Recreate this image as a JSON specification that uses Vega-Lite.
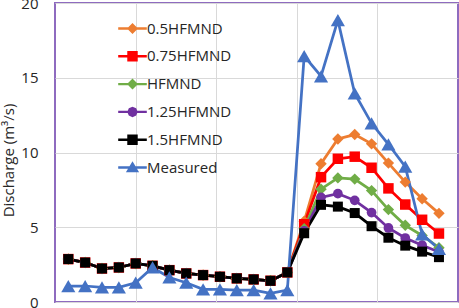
{
  "$schema": "https://vega.github.io/schema/vega-lite/v6.json",
  "autosize": {"type": "none"},
  "padding": {"left": 55, "top": 3, "right": 1, "bottom": 6},
  "width": 403,
  "height": 299,
  "background": "white",
  "config": {
    "font": "Open Sans",
    "view": {"stroke": "#8E6BBF", "strokeWidth": 2}
  },
  "data": {
    "values": [
      {"t": 1, "series": "0.5HFMND", "q": 2.87}, {"t": 2, "series": "0.5HFMND", "q": 2.64}, {"t": 3, "series": "0.5HFMND", "q": 2.24}, {"t": 4, "series": "0.5HFMND", "q": 2.31}, {"t": 5, "series": "0.5HFMND", "q": 2.58}, {"t": 6, "series": "0.5HFMND", "q": 2.42}, {"t": 7, "series": "0.5HFMND", "q": 2.13}, {"t": 8, "series": "0.5HFMND", "q": 1.91}, {"t": 9, "series": "0.5HFMND", "q": 1.8}, {"t": 10, "series": "0.5HFMND", "q": 1.69}, {"t": 11, "series": "0.5HFMND", "q": 1.58}, {"t": 12, "series": "0.5HFMND", "q": 1.51}, {"t": 13, "series": "0.5HFMND", "q": 1.42}, {"t": 14, "series": "0.5HFMND", "q": 1.98}, {"t": 15, "series": "0.5HFMND", "q": 5.4}, {"t": 16, "series": "0.5HFMND", "q": 9.25}, {"t": 17, "series": "0.5HFMND", "q": 10.9}, {"t": 18, "series": "0.5HFMND", "q": 11.2}, {"t": 19, "series": "0.5HFMND", "q": 10.58}, {"t": 20, "series": "0.5HFMND", "q": 9.29}, {"t": 21, "series": "0.5HFMND", "q": 8.02}, {"t": 22, "series": "0.5HFMND", "q": 6.91}, {"t": 23, "series": "0.5HFMND", "q": 5.93},
      {"t": 1, "series": "0.75HFMND", "q": 2.87}, {"t": 2, "series": "0.75HFMND", "q": 2.64}, {"t": 3, "series": "0.75HFMND", "q": 2.24}, {"t": 4, "series": "0.75HFMND", "q": 2.31}, {"t": 5, "series": "0.75HFMND", "q": 2.58}, {"t": 6, "series": "0.75HFMND", "q": 2.42}, {"t": 7, "series": "0.75HFMND", "q": 2.13}, {"t": 8, "series": "0.75HFMND", "q": 1.91}, {"t": 9, "series": "0.75HFMND", "q": 1.8}, {"t": 10, "series": "0.75HFMND", "q": 1.69}, {"t": 11, "series": "0.75HFMND", "q": 1.58}, {"t": 12, "series": "0.75HFMND", "q": 1.51}, {"t": 13, "series": "0.75HFMND", "q": 1.42}, {"t": 14, "series": "0.75HFMND", "q": 1.98}, {"t": 15, "series": "0.75HFMND", "q": 5.2}, {"t": 16, "series": "0.75HFMND", "q": 8.35}, {"t": 17, "series": "0.75HFMND", "q": 9.58}, {"t": 18, "series": "0.75HFMND", "q": 9.72}, {"t": 19, "series": "0.75HFMND", "q": 8.98}, {"t": 20, "series": "0.75HFMND", "q": 7.6}, {"t": 21, "series": "0.75HFMND", "q": 6.52}, {"t": 22, "series": "0.75HFMND", "q": 5.5}, {"t": 23, "series": "0.75HFMND", "q": 4.58},
      {"t": 1, "series": "HFMND", "q": 2.87}, {"t": 2, "series": "HFMND", "q": 2.64}, {"t": 3, "series": "HFMND", "q": 2.24}, {"t": 4, "series": "HFMND", "q": 2.31}, {"t": 5, "series": "HFMND", "q": 2.58}, {"t": 6, "series": "HFMND", "q": 2.42}, {"t": 7, "series": "HFMND", "q": 2.13}, {"t": 8, "series": "HFMND", "q": 1.91}, {"t": 9, "series": "HFMND", "q": 1.8}, {"t": 10, "series": "HFMND", "q": 1.69}, {"t": 11, "series": "HFMND", "q": 1.58}, {"t": 12, "series": "HFMND", "q": 1.51}, {"t": 13, "series": "HFMND", "q": 1.42}, {"t": 14, "series": "HFMND", "q": 1.98}, {"t": 15, "series": "HFMND", "q": 4.9}, {"t": 16, "series": "HFMND", "q": 7.55}, {"t": 17, "series": "HFMND", "q": 8.3}, {"t": 18, "series": "HFMND", "q": 8.22}, {"t": 19, "series": "HFMND", "q": 7.45}, {"t": 20, "series": "HFMND", "q": 6.18}, {"t": 21, "series": "HFMND", "q": 5.13}, {"t": 22, "series": "HFMND", "q": 4.45}, {"t": 23, "series": "HFMND", "q": 3.63},
      {"t": 1, "series": "1.25HFMND", "q": 2.87}, {"t": 2, "series": "1.25HFMND", "q": 2.64}, {"t": 3, "series": "1.25HFMND", "q": 2.24}, {"t": 4, "series": "1.25HFMND", "q": 2.31}, {"t": 5, "series": "1.25HFMND", "q": 2.58}, {"t": 6, "series": "1.25HFMND", "q": 2.42}, {"t": 7, "series": "1.25HFMND", "q": 2.13}, {"t": 8, "series": "1.25HFMND", "q": 1.91}, {"t": 9, "series": "1.25HFMND", "q": 1.8}, {"t": 10, "series": "1.25HFMND", "q": 1.69}, {"t": 11, "series": "1.25HFMND", "q": 1.58}, {"t": 12, "series": "1.25HFMND", "q": 1.51}, {"t": 13, "series": "1.25HFMND", "q": 1.42}, {"t": 14, "series": "1.25HFMND", "q": 1.98}, {"t": 15, "series": "1.25HFMND", "q": 4.75}, {"t": 16, "series": "1.25HFMND", "q": 7.0}, {"t": 17, "series": "1.25HFMND", "q": 7.25}, {"t": 18, "series": "1.25HFMND", "q": 6.8}, {"t": 19, "series": "1.25HFMND", "q": 5.98}, {"t": 20, "series": "1.25HFMND", "q": 4.95}, {"t": 21, "series": "1.25HFMND", "q": 4.28}, {"t": 22, "series": "1.25HFMND", "q": 3.8}, {"t": 23, "series": "1.25HFMND", "q": 3.35},
      {"t": 1, "series": "1.5HFMND", "q": 2.87}, {"t": 2, "series": "1.5HFMND", "q": 2.64}, {"t": 3, "series": "1.5HFMND", "q": 2.24}, {"t": 4, "series": "1.5HFMND", "q": 2.31}, {"t": 5, "series": "1.5HFMND", "q": 2.58}, {"t": 6, "series": "1.5HFMND", "q": 2.42}, {"t": 7, "series": "1.5HFMND", "q": 2.13}, {"t": 8, "series": "1.5HFMND", "q": 1.91}, {"t": 9, "series": "1.5HFMND", "q": 1.8}, {"t": 10, "series": "1.5HFMND", "q": 1.69}, {"t": 11, "series": "1.5HFMND", "q": 1.58}, {"t": 12, "series": "1.5HFMND", "q": 1.51}, {"t": 13, "series": "1.5HFMND", "q": 1.42}, {"t": 14, "series": "1.5HFMND", "q": 1.98}, {"t": 15, "series": "1.5HFMND", "q": 4.6}, {"t": 16, "series": "1.5HFMND", "q": 6.5}, {"t": 17, "series": "1.5HFMND", "q": 6.38}, {"t": 18, "series": "1.5HFMND", "q": 5.95}, {"t": 19, "series": "1.5HFMND", "q": 5.07}, {"t": 20, "series": "1.5HFMND", "q": 4.3}, {"t": 21, "series": "1.5HFMND", "q": 3.77}, {"t": 22, "series": "1.5HFMND", "q": 3.37}, {"t": 23, "series": "1.5HFMND", "q": 3.0},
      {"t": 1, "series": "Measured", "q": 1.07}, {"t": 2, "series": "Measured", "q": 1.07}, {"t": 3, "series": "Measured", "q": 0.98}, {"t": 4, "series": "Measured", "q": 0.98}, {"t": 5, "series": "Measured", "q": 1.29}, {"t": 6, "series": "Measured", "q": 2.31}, {"t": 7, "series": "Measured", "q": 1.64}, {"t": 8, "series": "Measured", "q": 1.29}, {"t": 9, "series": "Measured", "q": 0.85}, {"t": 10, "series": "Measured", "q": 0.85}, {"t": 11, "series": "Measured", "q": 0.8}, {"t": 12, "series": "Measured", "q": 0.8}, {"t": 13, "series": "Measured", "q": 0.58}, {"t": 14, "series": "Measured", "q": 0.8}, {"t": 15, "series": "Measured", "q": 16.45}, {"t": 16, "series": "Measured", "q": 15.1}, {"t": 17, "series": "Measured", "q": 18.85}, {"t": 18, "series": "Measured", "q": 13.95}, {"t": 19, "series": "Measured", "q": 11.95}, {"t": 20, "series": "Measured", "q": 10.55}, {"t": 21, "series": "Measured", "q": 9.05}, {"t": 22, "series": "Measured", "q": 4.53}, {"t": 23, "series": "Measured", "q": 3.55}
    ]
  },
  "encoding": {
    "x": {
      "field": "t",
      "type": "quantitative",
      "scale": {"domain": [0.21, 24.13], "nice": false, "zero": false},
      "axis": {
        "title": null,
        "labels": false,
        "ticks": false,
        "domain": false,
        "grid": true,
        "values": [4.99, 9.78, 14.56, 19.35],
        "gridColor": "#D9D9D9",
        "gridWidth": 1
      }
    },
    "y": {
      "field": "q",
      "type": "quantitative",
      "scale": {"domain": [0, 20], "nice": false},
      "axis": {
        "title": "Discharge (m³/s)",
        "values": [0, 5, 10, 15, 20],
        "domain": false,
        "ticks": false,
        "grid": true,
        "gridColor": "#D9D9D9",
        "gridWidth": 1,
        "labelFontSize": 15,
        "labelColor": "#262626",
        "labelPadding": 17,
        "titleFontSize": 15,
        "titleFontWeight": "normal",
        "titleColor": "#262626",
        "titlePadding": 4,
        "titleY": 157
      }
    },
    "color": {
      "field": "series",
      "type": "nominal",
      "sort": null,
      "scale": {
        "domain": ["0.5HFMND", "0.75HFMND", "HFMND", "1.25HFMND", "1.5HFMND", "Measured"],
        "range": ["#ED7D31", "#FF0000", "#70AD47", "#7030A0", "#000000", "#4472C4"]
      },
      "legend": {
        "title": null,
        "orient": "none",
        "legendX": 70,
        "legendY": 18,
        "padding": 0,
        "symbolSize": 121,
        "labelFontSize": 15,
        "labelColor": "#262626",
        "labelOffset": 7,
        "rowPadding": 11.8,
        "encode": {
          "symbols": {
            "update": {
              "shape": {
                "signal": "(datum.value === '0.5HFMND' || datum.value === 'HFMND') ? 'M-2.6,-0.22L2.6,-0.22L2.6,0.22L-2.6,0.22Z M0,-1L1,0L0,1L-1,0Z' : datum.value === '1.25HFMND' ? 'M-2.6,-0.22L2.6,-0.22L2.6,0.22L-2.6,0.22Z M0,-0.95L0.67,-0.67L0.95,0L0.67,0.67L0,0.95L-0.67,0.67L-0.95,0L-0.67,-0.67Z' : datum.value === 'Measured' ? 'M-2.6,-0.22L2.6,-0.22L2.6,0.22L-2.6,0.22Z M0,-1.15L1.2,0.85L-1.2,0.85Z' : 'M-2.6,-0.22L2.6,-0.22L2.6,0.22L-2.6,0.22Z M-0.95,-0.95L0.95,-0.95L0.95,0.95L-0.95,0.95Z'"
              },
              "size": {"value": 121},
              "fill": {"signal": "scale('color', datum.value)"},
              "stroke": {"value": "transparent"},
              "strokeWidth": {"value": 0},
              "opacity": {"value": 1}
            }
          }
        }
      }
    }
  },
  "layer": [
    {
      "mark": {"type": "line", "strokeWidth": 2.75}
    },
    {
      "transform": [{"filter": "datum.series === '0.5HFMND'"}],
      "mark": {"type": "point", "filled": true, "opacity": 1, "shape": "diamond", "size": 130}
    },
    {
      "transform": [{"filter": "datum.series === '0.75HFMND'"}],
      "mark": {"type": "point", "filled": true, "opacity": 1, "shape": "square", "size": 110}
    },
    {
      "transform": [{"filter": "datum.series === 'HFMND'"}],
      "mark": {"type": "point", "filled": true, "opacity": 1, "shape": "diamond", "size": 130}
    },
    {
      "transform": [{"filter": "datum.series === '1.25HFMND'"}],
      "mark": {"type": "point", "filled": true, "opacity": 1, "shape": "circle", "size": 95}
    },
    {
      "transform": [{"filter": "datum.series === '1.5HFMND'"}],
      "mark": {"type": "point", "filled": true, "opacity": 1, "shape": "square", "size": 100}
    },
    {
      "transform": [{"filter": "datum.series === 'Measured'"}],
      "mark": {"type": "point", "filled": true, "opacity": 1, "shape": "triangle-up", "size": 200}
    }
  ]
}
